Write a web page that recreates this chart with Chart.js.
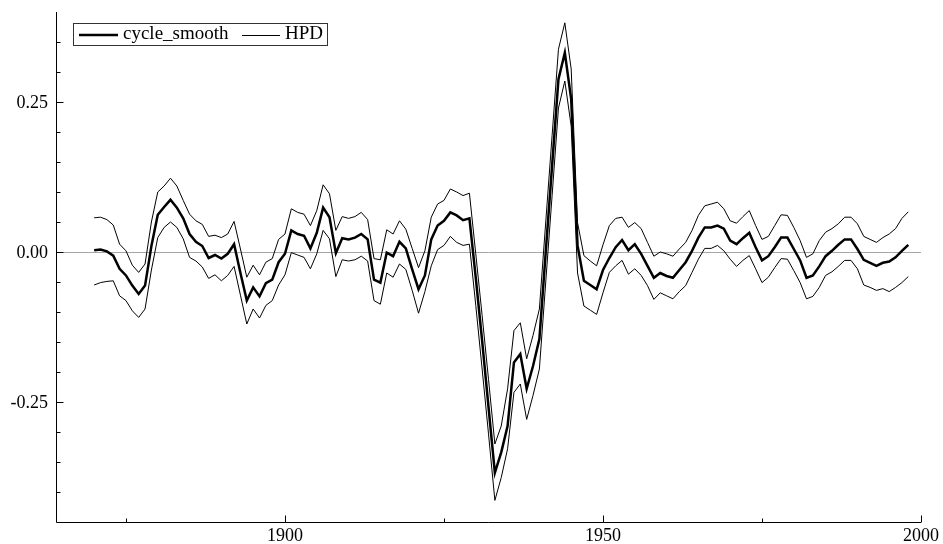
<!DOCTYPE html>
<html>
<head>
<meta charset="utf-8">
<script src="https://cdn.jsdelivr.net/npm/chart.js@4.4.1/dist/chart.umd.min.js"></script>
<style>
  html, body { margin: 0; padding: 0; background: #fff; }
</style>
</head>
<body>
<canvas id="chart" width="943" height="544"></canvas>
<script>
// yearly values, 1870 .. 1998
const firstYear = 1870;

const cycleSmooth = [
  0.003, 0.004, 0.001, -0.006, -0.028, -0.039, -0.056, -0.070, -0.056, 0.010,
  0.062, 0.075, 0.087, 0.074, 0.056, 0.030, 0.017, 0.010, -0.010, -0.005,
  -0.011, -0.003, 0.013, -0.035, -0.081, -0.059, -0.074, -0.052, -0.046, -0.017,
  -0.003, 0.036, 0.030, 0.027, 0.006, 0.032, 0.074, 0.058, -0.002, 0.023,
  0.021, 0.024, 0.030, 0.021, -0.046, -0.051, -0.001, -0.007, 0.017, 0.006,
  -0.029, -0.062, -0.039, 0.021, 0.044, 0.052, 0.066, 0.061, 0.053, 0.056,
  -0.043, -0.148, -0.258, -0.368, -0.334, -0.290, -0.184, -0.170, -0.228, -0.190,
  -0.145, 0.000, 0.144, 0.288, 0.332, 0.255, 0.011, -0.048, -0.055, -0.062,
  -0.030, -0.010, 0.008, 0.020, 0.003, 0.013, -0.003, -0.023, -0.043, -0.035,
  -0.040, -0.043, -0.030, -0.017, 0.002, 0.024, 0.041, 0.041, 0.044, 0.039,
  0.019, 0.013, 0.023, 0.032, 0.008, -0.014, -0.007, 0.008, 0.024, 0.024,
  0.005, -0.014, -0.043, -0.039, -0.024, -0.007, 0.002, 0.012, 0.021, 0.021,
  0.005, -0.013, -0.018, -0.023, -0.018, -0.016, -0.009, 0.002, 0.012
];

const hpdUpper = [
  0.057, 0.058, 0.054, 0.045, 0.013, 0.002, -0.022, -0.034, -0.020, 0.050,
  0.100, 0.110, 0.123, 0.110, 0.086, 0.063, 0.052, 0.046, 0.026, 0.028,
  0.024, 0.030, 0.051, 0.005, -0.042, -0.022, -0.038, -0.017, -0.011, 0.021,
  0.030, 0.072, 0.066, 0.063, 0.044, 0.069, 0.112, 0.097, 0.036, 0.059,
  0.056, 0.059, 0.066, 0.054, -0.011, -0.013, 0.037, 0.030, 0.052, 0.038,
  0.006, -0.026, 0.002, 0.058, 0.080, 0.086, 0.105, 0.100, 0.094, 0.098,
  -0.003, -0.106, -0.212, -0.320, -0.290, -0.228, -0.131, -0.118, -0.178, -0.139,
  -0.095, 0.050, 0.194, 0.338, 0.382, 0.305, 0.049, -0.006, -0.015, -0.023,
  0.012, 0.044, 0.056, 0.058, 0.041, 0.049, 0.039, 0.016, -0.007, 0.000,
  -0.003, -0.007, 0.005, 0.016, 0.036, 0.061, 0.077, 0.080, 0.083, 0.072,
  0.052, 0.048, 0.059, 0.069, 0.044, 0.021, 0.026, 0.044, 0.062, 0.061,
  0.041, 0.019, -0.009, -0.003, 0.019, 0.033, 0.039, 0.047, 0.058, 0.058,
  0.047, 0.026, 0.021, 0.016, 0.024, 0.030, 0.039, 0.056, 0.067
];

const hpdLower = [
  -0.055, -0.051, -0.049, -0.048, -0.073, -0.081, -0.098, -0.109, -0.095, -0.030,
  0.024, 0.041, 0.050, 0.041, 0.022, -0.009, -0.015, -0.025, -0.044, -0.038,
  -0.048, -0.039, -0.024, -0.072, -0.120, -0.095, -0.110, -0.089, -0.081, -0.055,
  -0.038, -0.001, -0.005, -0.009, -0.028, -0.003, 0.036, 0.022, -0.041, -0.013,
  -0.015, -0.013, -0.007, -0.015, -0.081, -0.087, -0.035, -0.042, -0.020, -0.029,
  -0.064, -0.102, -0.066, -0.023, 0.004, 0.011, 0.026, 0.016, 0.011, 0.013,
  -0.089, -0.195, -0.303, -0.414, -0.376, -0.328, -0.234, -0.220, -0.279, -0.239,
  -0.195, -0.050, 0.094, 0.240, 0.285, 0.210, -0.035, -0.090, -0.097, -0.104,
  -0.068, -0.034, -0.023, -0.014, -0.037, -0.028, -0.039, -0.056, -0.079, -0.068,
  -0.073, -0.078, -0.066, -0.056, -0.034, -0.012, 0.006, 0.006, 0.011, 0.002,
  -0.012, -0.024, -0.014, -0.006, -0.028, -0.051, -0.042, -0.026, -0.011, -0.012,
  -0.031, -0.051, -0.078, -0.074, -0.059, -0.039, -0.033, -0.024, -0.014, -0.014,
  -0.028, -0.055, -0.059, -0.064, -0.061, -0.066, -0.059, -0.051, -0.041
];

const xMajorTicks = [1900, 1950, 2000];
const xMajorLabels = ['1900', '1950', '2000'];
const xMinorTicks = [1875, 1925, 1975];
const yMajorTicks = [-0.25, 0, 0.25];
const yMajorLabels = ['-0.25', '0.00', '0.25'];
const yMinorTicks = [-0.40, -0.35, -0.30, -0.20, -0.15, -0.10, -0.05, 0.05, 0.10, 0.15, 0.20, 0.30, 0.35];

const FONT = '18px "Liberation Serif", "Times New Roman", serif';

function toPoints(arr) {
  return arr.map((v, i) => ({ x: firstYear + i, y: v }));
}

// zero line behind the data, axes + legend on top
const frame = {
  id: 'frame',
  beforeDatasetsDraw(chart) {
    const { ctx, chartArea: a, scales: { y } } = chart;
    const y0 = Math.round(y.getPixelForValue(0)) + 0.5;
    ctx.save();
    ctx.strokeStyle = '#a6a6a6';
    ctx.lineWidth = 1;
    ctx.beginPath();
    ctx.moveTo(a.left, y0);
    ctx.lineTo(a.right, y0);
    ctx.stroke();
    ctx.restore();
  },
  afterDraw(chart) {
    const { ctx, chartArea: a, scales: { x, y } } = chart;
    const left = a.left + 0.5;
    const bottom = a.bottom + 0.5;
    ctx.save();
    ctx.strokeStyle = '#000';
    ctx.lineWidth = 1;
    ctx.beginPath();
    ctx.moveTo(left, a.top);
    ctx.lineTo(left, bottom);
    ctx.lineTo(a.right, bottom);
    ctx.stroke();

    ctx.beginPath();
    yMajorTicks.forEach(v => {
      const p = Math.round(y.getPixelForValue(v)) + 0.5;
      ctx.moveTo(left, p); ctx.lineTo(left + 7, p);
    });
    yMinorTicks.forEach(v => {
      const p = Math.round(y.getPixelForValue(v)) + 0.5;
      ctx.moveTo(left, p); ctx.lineTo(left + 4, p);
    });
    xMajorTicks.forEach(v => {
      const p = Math.round(x.getPixelForValue(v)) + 0.5;
      ctx.moveTo(p, bottom); ctx.lineTo(p, bottom - 7);
    });
    xMinorTicks.forEach(v => {
      const p = Math.round(x.getPixelForValue(v)) + 0.5;
      ctx.moveTo(p, bottom); ctx.lineTo(p, bottom - 4);
    });
    ctx.stroke();

    ctx.fillStyle = '#000';
    ctx.font = FONT;
    ctx.textAlign = 'right';
    ctx.textBaseline = 'middle';
    yMajorTicks.forEach((v, i) => {
      ctx.fillText(yMajorLabels[i], a.left - 8, y.getPixelForValue(v) + 1);
    });
    ctx.textAlign = 'center';
    ctx.textBaseline = 'top';
    xMajorTicks.forEach((v, i) => {
      ctx.fillText(xMajorLabels[i], x.getPixelForValue(v), a.bottom + 5);
    });

    // legend box
    ctx.strokeStyle = '#333';
    ctx.strokeRect(73.5, 23.5, 254, 22);
    ctx.strokeStyle = '#000';
    ctx.lineWidth = 2.5;
    ctx.beginPath(); ctx.moveTo(79, 35); ctx.lineTo(118, 35); ctx.stroke();
    ctx.lineWidth = 1;
    ctx.beginPath(); ctx.moveTo(242, 35.5); ctx.lineTo(280, 35.5); ctx.stroke();
    ctx.textAlign = 'left';
    ctx.textBaseline = 'middle';
    ctx.font = '19px "Liberation Serif", "Times New Roman", serif';
    ctx.fillText(chart.data.datasets[0].label, 123, 34.5);
    ctx.fillText(chart.data.datasets[1].label, 285, 34.5);
    ctx.restore();
  }
};

new Chart(document.getElementById('chart'), {
  type: 'line',
  data: {
    datasets: [
      { label: 'cycle_smooth', data: toPoints(cycleSmooth), borderColor: '#000', borderWidth: 2.5 },
      { label: 'HPD', data: toPoints(hpdUpper), borderColor: '#000', borderWidth: 1 },
      { label: 'HPD lower', data: toPoints(hpdLower), borderColor: '#000', borderWidth: 1 }
    ]
  },
  options: {
    responsive: false,
    animation: false,
    devicePixelRatio: 1,
    layout: { padding: { left: 56, right: 22, top: 12, bottom: 22 } },
    elements: {
      point: { radius: 0 },
      line: { tension: 0, fill: false, borderJoinStyle: 'miter' }
    },
    plugins: { legend: { display: false }, tooltip: { enabled: false } },
    scales: {
      x: { type: 'linear', min: 1864, max: 2000, display: false },
      y: { min: -0.45, max: 0.40, display: false }
    }
  },
  plugins: [frame]
});
</script>
</body>
</html>
